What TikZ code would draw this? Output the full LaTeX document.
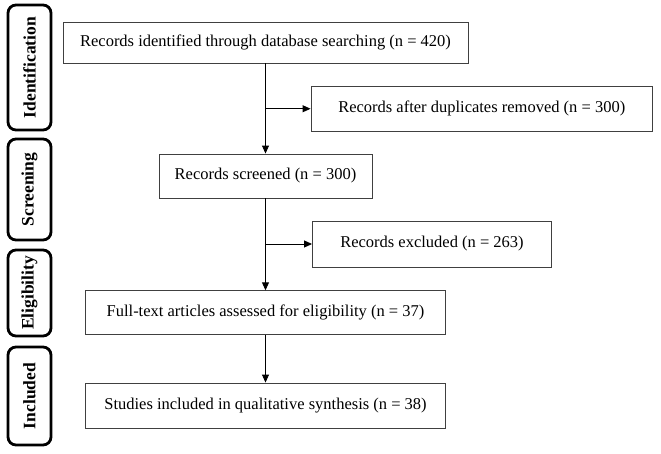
\documentclass[tikz,border=0pt]{standalone}
\usepackage{fontspec}
\setmainfont{Liberation Serif}
\usetikzlibrary{arrows.meta}
\tikzset{
	flowbox/.style={draw=black!75, line width=0.9pt, inner sep=0pt, align=center, font=\fontsize{16.5}{20}\selectfont},
	phasebox/.style={draw=black, line width=2.8pt, rounded corners=8pt, rotate=90, inner sep=0pt, minimum height=43, font=\fontsize{17.5}{20}\selectfont\bfseries},
	flowarrow/.style={line width=0.9pt, -{Triangle[length=8pt, width=7pt]}}
}

\begin{document}
\begin{tikzpicture}[x=1pt, y=-1pt]
		%%%%% START %%%%%
		\useasboundingbox (0, 0) rectangle (661, 453);
		
		% phases on the left
		\node[phasebox, minimum width=125] (pid) at (29.5, 67.5) {Identification};
		\node[phasebox, minimum width=101] (pscr) at (29.5, 189.5) {Screening};
		\node[phasebox, minimum width=86] (pel) at (29.5, 293) {Eligibility};
		\node[phasebox, minimum width=98] (pinc) at (29.5, 396) {Included};
		
		% boxes
		\node[flowbox, minimum width=405, minimum height=41] (rec) at (265.5, 42.5) {Records identified through database searching (n = 420)};
		\node[flowbox, minimum width=341.5, minimum height=45.5] (dup) at (481.75, 108.75) {Records after duplicates removed (n = 300)};
		\node[flowbox, minimum width=213, minimum height=44] (scr) at (265.5, 176) {Records screened (n = 300)};
		\node[flowbox, minimum width=239, minimum height=46] (exc) at (432, 244) {Records excluded (n = 263)};
		\node[flowbox, minimum width=360, minimum height=43.5] (full) at (265.5, 312.5) {Full-text articles assessed for eligibility (n = 37)};
		\node[flowbox, minimum width=360, minimum height=45] (inc) at (265.5, 405.5) {Studies included in qualitative synthesis (n = 38)};
		
		% arrows
		\draw[flowarrow] (rec) -- (scr);
		\draw[flowarrow] (rec.south |- dup.west) -- (dup.west);
		\draw[flowarrow] (scr) -- (full);
		\draw[flowarrow] (scr.south |- exc.west) -- (exc.west);
		\draw[flowarrow] (full) -- (inc);
		
		%%%%% END %%%%%
	\end{tikzpicture}
\end{document}
